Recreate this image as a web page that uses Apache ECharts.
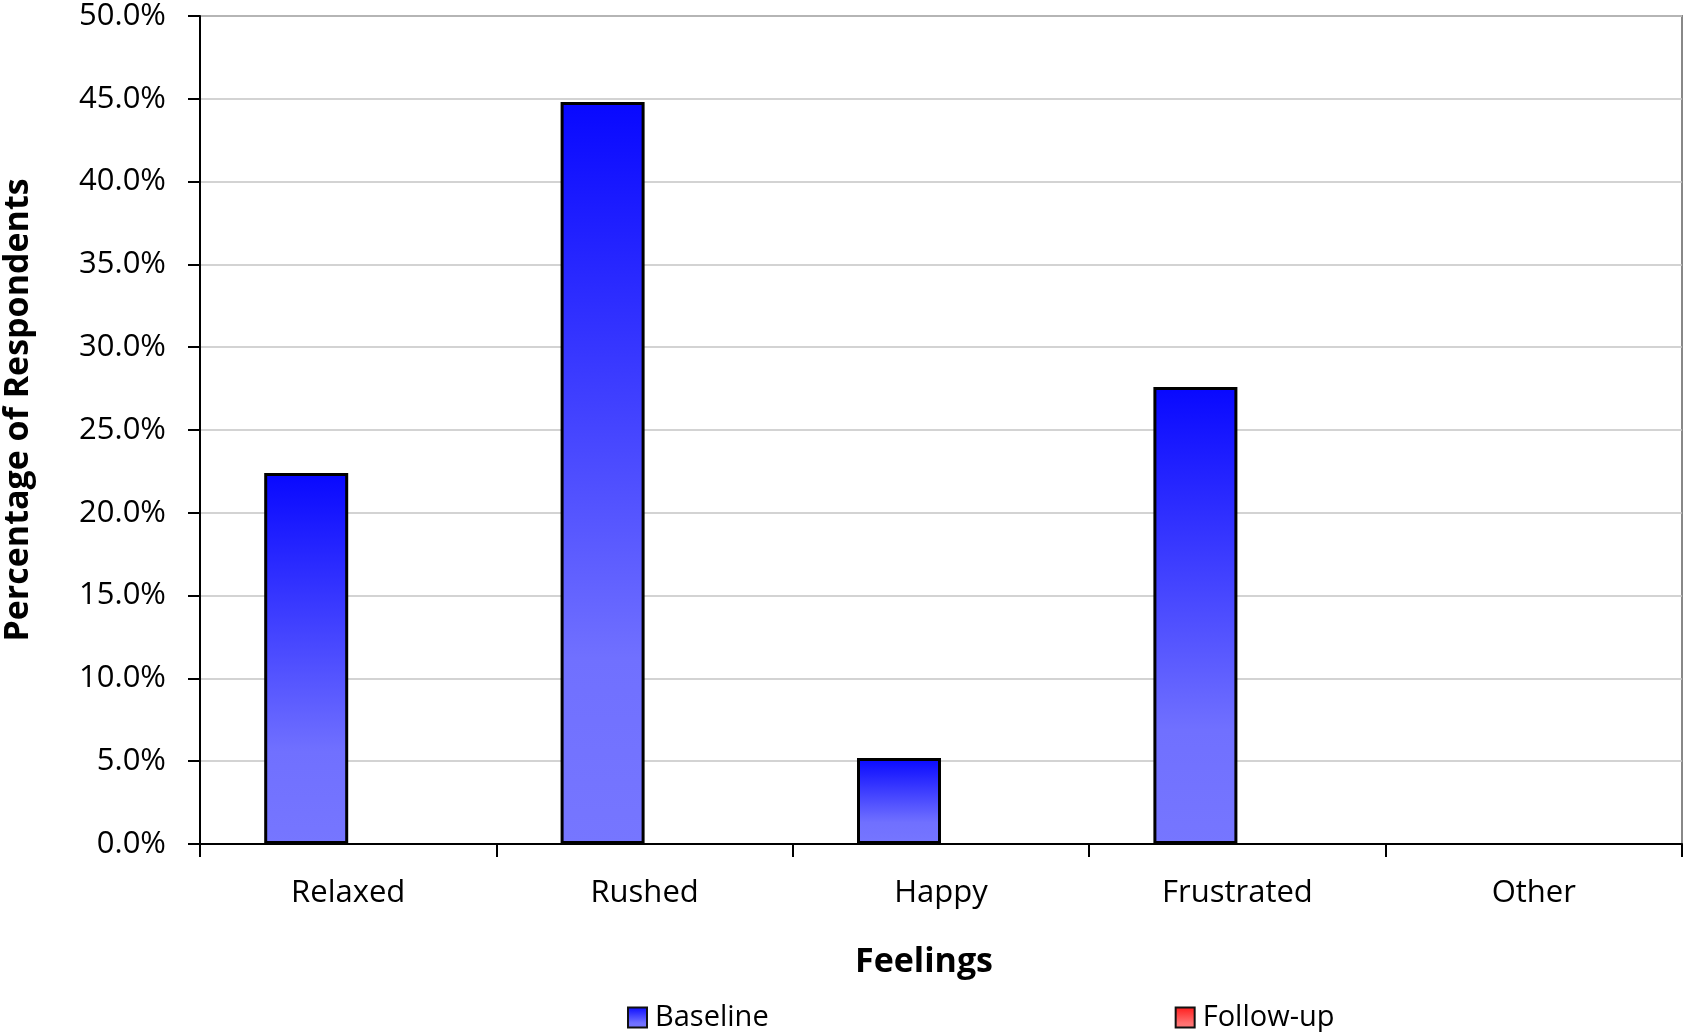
<!DOCTYPE html>
<html>
<head>
<meta charset="utf-8">
<script src="https://cdn.jsdelivr.net/npm/echarts@6/dist/echarts.min.js"></script>
<style>
html,body{margin:0;padding:0;background:#fff;}
#c{width:1684px;height:1032px;}
</style>
</head>
<body>
<div id="c"></div>
<script>
const categories = ['Relaxed', 'Rushed', 'Happy', 'Frustrated', 'Other'];
const baseline = [22.4, 44.8, 5.2, 27.6, 0];
const followUp = [0, 0, 0, 0, 0];
const seriesNames = ['Baseline', 'Follow-up'];
const yTicks = [0, 5, 10, 15, 20, 25, 30, 35, 40, 45, 50];

const FONT = 'Open Sans';
function grad(c0, c1, c2) {
  return new echarts.graphic.LinearGradient(0, 0, 0, 1, [
    {offset: 0, color: c0}, {offset: 0.75, color: c1}, {offset: 1, color: c2}
  ]);
}
// zero-height bars get no outline (nothing visible in the reference)
function toData(arr) {
  return arr.map(v => v === 0 ? {value: v, itemStyle: {borderWidth: 0}} : v);
}
const chart = echarts.init(document.getElementById('c'), null, {renderer: 'canvas'});
chart.setOption({
  backgroundColor: '#fff',
  animation: false,
  grid: {left: 200, right: 2, top: 16, bottom: 188, show: true, borderColor: '#888', borderWidth: 2,
    backgroundColor: 'transparent', containLabel: false, outerBoundsMode: 'none'},
  legend: {
    data: seriesNames,
    left: 622, top: 998,
    itemWidth: 19, itemHeight: 20, itemGap: 406,
    icon: 'rect',
    itemStyle: {borderWidth: 2, borderColor: '#111'},
    textStyle: {fontFamily: FONT, fontSize: 29, color: '#000', padding: [0, 0, 0, 3]}
  },
  xAxis: {
    type: 'category',
    data: categories,
    name: 'Feelings',
    nameLocation: 'middle',
    nameGap: 101,
    nameTextStyle: {fontFamily: FONT, fontWeight: 'bold', fontSize: 34, color: '#000', padding: [0, 34, 0, 0]},
    axisLine: {lineStyle: {color: '#000', width: 2}},
    axisTick: {show: true, length: 13, lineStyle: {color: '#000', width: 2}},
    axisLabel: {fontFamily: FONT, fontSize: 31, color: '#000', margin: 34}
  },
  yAxis: {
    type: 'value',
    min: 0, max: 50, interval: 5,
    name: 'Percentage of Respondents',
    nameLocation: 'middle',
    nameGap: 165,
    nameTextStyle: {fontFamily: FONT, fontWeight: 'bold', fontSize: 34, color: '#000', padding: [0, 0, 0, 40]},
    axisLine: {show: true, lineStyle: {color: '#000', width: 2}},
    axisTick: {show: true, length: 12, lineStyle: {color: '#000', width: 2}},
    axisLabel: {fontFamily: FONT, fontSize: 31, color: '#000', margin: 34,
      formatter: v => yTicks.indexOf(v) >= 0 ? v.toFixed(1) + '%' : ''},
    splitLine: {lineStyle: {color: '#c4c4c4', width: 1.5}}
  },
  series: [
    {
      name: seriesNames[0], type: 'bar', data: toData(baseline),
      barWidth: 84, barGap: '0%',
      itemStyle: {color: grad('#0808ff', '#7070ff', '#7676ff'), borderColor: '#000', borderWidth: 3}
    },
    {
      name: seriesNames[1], type: 'bar', data: toData(followUp),
      barWidth: 84,
      itemStyle: {color: grad('#ff1a1a', '#ff7070', '#ff7a7a'), borderColor: '#000', borderWidth: 3}
    }
  ]
});
</script>
</body>
</html>
